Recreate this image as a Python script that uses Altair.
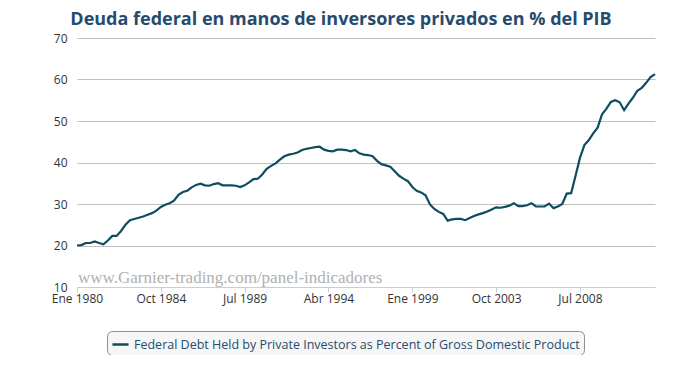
import altair as alt
import pandas as pd

# Quarterly data, 1980-Q1 .. 2012-Q4 (% of GDP)
values = [
    20.0, 20.1, 20.6, 20.6, 21.0, 20.6, 20.3, 21.2, 22.3, 22.3,
    23.5, 25.0, 26.1, 26.4, 26.7, 27.0, 27.4, 27.8, 28.4, 29.3,
    29.8, 30.2, 30.8, 32.2, 32.9, 33.2, 34.0, 34.6, 34.9, 34.5,
    34.4, 34.8, 35.0, 34.5, 34.5, 34.5, 34.4, 34.1, 34.5, 35.2,
    36.0, 36.1, 37.1, 38.5, 39.2, 39.8, 40.7, 41.5, 41.9, 42.1,
    42.4, 43.0, 43.3, 43.5, 43.7, 43.8, 43.1, 42.8, 42.7, 43.1,
    43.1, 43.0, 42.7, 43.0, 42.2, 41.9, 41.8, 41.5, 40.4, 39.6,
    39.3, 39.0, 37.9, 36.8, 36.1, 35.5, 34.1, 33.2, 32.8, 32.1,
    29.9, 28.8, 28.1, 27.6, 26.0, 26.3, 26.4, 26.4, 26.1, 26.6,
    27.1, 27.5, 27.8, 28.2, 28.7, 29.2, 29.1, 29.3, 29.6, 30.2,
    29.5, 29.5, 29.7, 30.2, 29.4, 29.4, 29.4, 30.1, 29.0, 29.4,
    30.0, 32.5, 32.6, 36.8, 41.1, 44.2, 45.4, 47.0, 48.4, 51.6,
    53.0, 54.6, 55.0, 54.5, 52.6, 54.2, 55.6, 57.3, 58.0, 59.2,
    60.6, 61.3,
]
dates = [f"{1980 + i // 4}-{(i % 4) * 3 + 1:02d}-01" for i in range(len(values))]

series_name = "Federal Debt Held by Private Investors as Percent of Gross Domestic Product"
title_text = "Deuda federal en manos de inversores privados en % del PIB"
watermark = "www.Garnier-trading.com/panel-indicadores"
months_es = ["Ene", "Feb", "Mar", "Abr", "May", "Jun", "Jul", "Ago", "Sep", "Oct", "Nov", "Dic"]
tick_dates = [(1980, 1), (1984, 10), (1989, 7), (1994, 4), (1999, 1), (2003, 10), (2008, 7)]
y_ticks = [10, 20, 30, 40, 50, 60, 70]

df = pd.DataFrame({"date": dates, "value": values, "series": series_name})

month_arr = "[" + ",".join(f"'{m}'" for m in months_es) + "]"
label_expr = f"{month_arr}[utcmonth(datum.value)] + ' ' + utcyear(datum.value)"

FONT = "Open Sans"
LINE_COLOR = "#0d4d5f"

line = alt.Chart(df).mark_line(strokeWidth=2.2).encode(
    x=alt.X(
        "date:T",
        title=None,
        scale=alt.Scale(
            type="utc",
            domain=[alt.DateTime(year=1980, month=1, date=1, utc=True),
                    alt.DateTime(year=2012, month=10, date=1, utc=True)],
        ),
        axis=alt.Axis(
            values=[alt.DateTime(year=y, month=m, date=1, utc=True) for y, m in tick_dates],
            labelExpr=label_expr,
            grid=False,
            domainColor="#c0d0e0",
            tickColor="#c0d0e0",
            tickSize=5,
            labelPadding=1,
            labelBaseline="top",
            labelFont=FONT,
            labelFontSize=12,
            labelColor="#333333",
            labelFlush=False,
        ),
    ),
    y=alt.Y(
        "value:Q",
        title=None,
        scale=alt.Scale(domain=[10, 70], nice=False, zero=False),
        axis=alt.Axis(
            values=y_ticks,
            domain=False,
            ticks=False,
            gridColor="#c0c0c0",
            gridWidth=1,
            labelPadding=10,
            labelFont=FONT,
            labelFontSize=12,
            labelColor="#333333",
        ),
    ),
    color=alt.Color(
        "series:N",
        scale=alt.Scale(domain=[series_name], range=[LINE_COLOR]),
        legend=alt.Legend(
            title=None,
            orient="none",
            legendX=30,
            legendY=293,
            symbolType="stroke",
            symbolStrokeWidth=2.5,
            symbolSize=260,
            labelFont=FONT,
            labelFontSize=12.5,
            labelColor="#274b6d",
            labelLimit=0,
            strokeColor="#909090",
            fillColor="#f6f6f6",
            cornerRadius=5,
            padding=4,
        ),
    ),
)

wm = alt.Chart(pd.DataFrame({"t": [watermark]})).mark_text(
    align="left", baseline="alphabetic", font="Liberation Serif", fontSize=17, color="#b0b0b0"
).encode(text="t:N", x=alt.value(1), y=alt.value(245))

chart = alt.layer(wm, line).properties(
    width=578,
    height=249,
    autosize=alt.AutoSizeParams(type="none"),
    padding={"left": 69, "top": 30, "right": 15, "bottom": 68},
    title=alt.TitleParams(
        text=title_text,
        font=FONT,
        fontSize=18,
        fontWeight="bold",
        color="#274b6d",
        anchor="middle",
        dx=-25,
        offset=3,
    ),
).configure_view(stroke=None)

chart.save("out.html", embed_options={"renderer": "svg", "actions": False})
